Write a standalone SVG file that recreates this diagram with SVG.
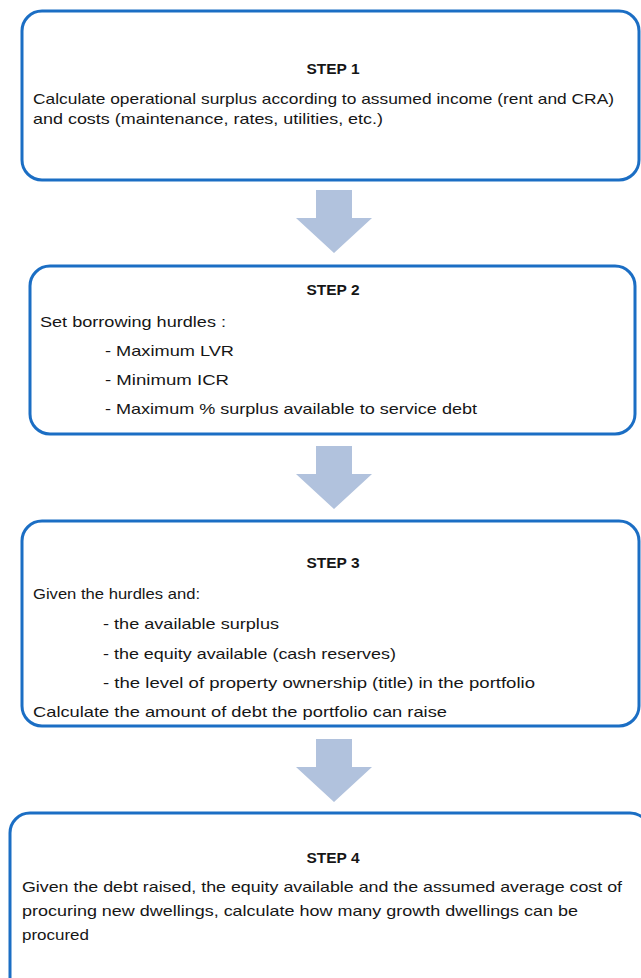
<svg xmlns="http://www.w3.org/2000/svg" width="641" height="978" viewBox="0 0 641 978">
<style>
.box{fill:#fff;stroke:#1b6ec4;stroke-width:3}
.arr{fill:#b1c2dd}
text{font-family:"Liberation Sans",Arial,sans-serif;font-size:15px;fill:#161616}
.h{font-weight:bold;text-anchor:middle;font-size:14.5px}
</style>
<rect width="641" height="978" fill="#fff"/>
<g id="connectors">
<polygon class="arr" points="316,190 352,190 352,218 372,218 334,253 296,218 316,218"/>
<polygon class="arr" points="316,446 352,446 352,474 372,474 334,509 296,474 316,474"/>
<polygon class="arr" points="316,739 352,739 352,767 372,767 334,802 296,767 316,767"/>
</g>
<g id="step1">
<rect class="box" x="22" y="11" width="617" height="169" rx="20"/>
<text class="h" x="333" y="74" textLength="53" lengthAdjust="spacingAndGlyphs">STEP 1</text>
<text x="33" y="104" textLength="581" lengthAdjust="spacingAndGlyphs">Calculate operational surplus according to assumed income (rent and CRA)</text>
<text x="33" y="124" textLength="350" lengthAdjust="spacingAndGlyphs">and costs (maintenance, rates, utilities, etc.)</text>
</g>
<g id="step2">
<rect class="box" x="30" y="266" width="605" height="168" rx="20"/>
<text class="h" x="333" y="295" textLength="53" lengthAdjust="spacingAndGlyphs">STEP 2</text>
<text x="40" y="327" textLength="186" lengthAdjust="spacingAndGlyphs">Set borrowing  hurdles :</text>
<text x="105" y="356" textLength="129" lengthAdjust="spacingAndGlyphs">- Maximum  LVR</text>
<text x="105" y="385" textLength="124" lengthAdjust="spacingAndGlyphs">- Minimum  ICR</text>
<text x="105" y="414" textLength="372" lengthAdjust="spacingAndGlyphs">- Maximum  % surplus available to service debt</text>
</g>
<g id="step3">
<rect class="box" x="22" y="521" width="617" height="205" rx="20"/>
<text class="h" x="333" y="568" textLength="53" lengthAdjust="spacingAndGlyphs">STEP 3</text>
<text x="33" y="599" textLength="167" lengthAdjust="spacingAndGlyphs">Given the hurdles and:</text>
<text x="103" y="629" textLength="176" lengthAdjust="spacingAndGlyphs">- the available surplus</text>
<text x="103" y="659" textLength="293" lengthAdjust="spacingAndGlyphs">- the equity available (cash reserves)</text>
<text x="103" y="688" textLength="432" lengthAdjust="spacingAndGlyphs">- the level of property  ownership  (title) in the portfolio</text>
<text x="33" y="717" textLength="414" lengthAdjust="spacingAndGlyphs">Calculate the amount  of debt the portfolio  can raise</text>
</g>
<g id="step4">
<rect class="box" x="10" y="813" width="640" height="200" rx="20"/>
<text class="h" x="333" y="863" textLength="53" lengthAdjust="spacingAndGlyphs">STEP 4</text>
<text x="22" y="892" textLength="600" lengthAdjust="spacingAndGlyphs">Given the debt raised, the equity available and the assumed average cost of</text>
<text x="22" y="916" textLength="556" lengthAdjust="spacingAndGlyphs">procuring  new dwellings, calculate how many growth  dwellings can be</text>
<text x="22" y="940" textLength="67" lengthAdjust="spacingAndGlyphs">procured</text>
</g>
</svg>
